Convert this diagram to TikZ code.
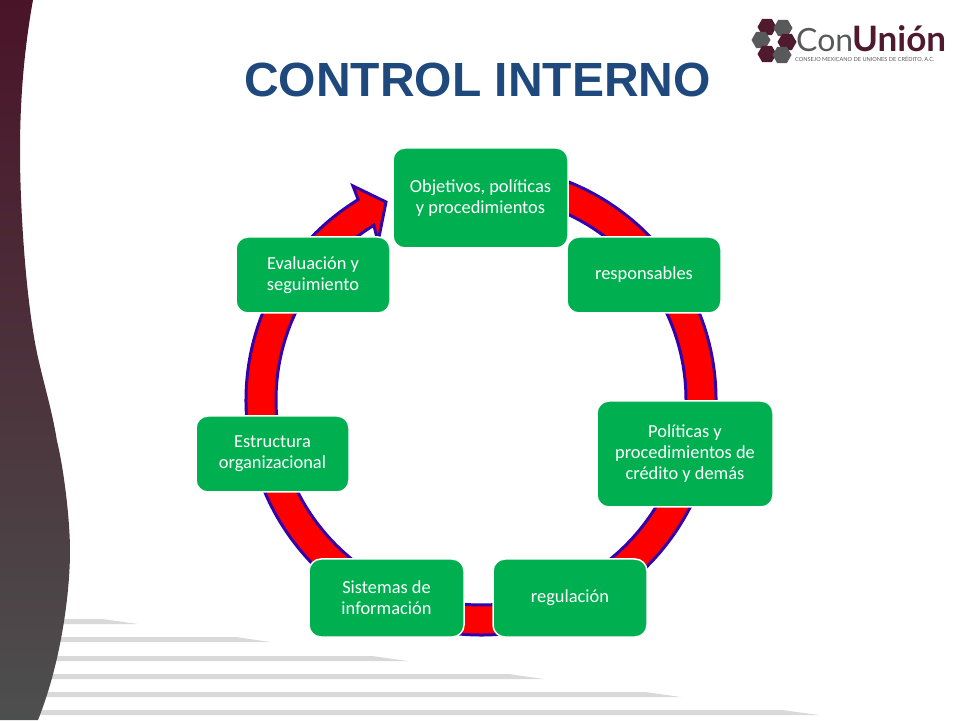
\documentclass[tikz,border=0pt]{standalone}
\usepackage{fontspec}
\setmainfont{Carlito}
\newfontfamily\titlefont{Liberation Sans}
\newfontfamily\logofont{Lato}
\usetikzlibrary{calc, shapes.geometric}
\definecolor{boxgreen}{HTML}{00B050}
\definecolor{ringred}{HTML}{FF0000}
\definecolor{ringblue}{HTML}{3300AA}
\definecolor{titleblue}{HTML}{1F497D}
\definecolor{logomaroon}{HTML}{4F1A2E}
\definecolor{logogray}{HTML}{58595B}
\definecolor{sidetop}{HTML}{4A1428}
\definecolor{sidebot}{HTML}{4D4F4E}
\definecolor{stripe}{HTML}{D9D9D9}
\tikzset{%
    blo/.style={rectangle, rounded corners=12pt, fill=boxgreen, draw=white, line width=1.5pt,
        text=white, align=center, font=\fontsize{18.4}{21}\selectfont, inner sep=2pt},
    rin/.style={fill=ringred, draw=ringblue, line width=3pt, line join=miter},
    hexa/.style={regular polygon, regular polygon sides=6, shape border rotate=0, minimum size=19pt, inner sep=0pt},
}
\begin{document}
\begin{tikzpicture}[x=1pt,y=1pt]
    \useasboundingbox (0,0) rectangle (960,720);
    % stripes at the bottom
    \foreach \ytop/\xs/\xe in {101/102/138, 83/236/270, 64/372/408, 46/509/544, 28/645/681, 10/782/819}
        \fill [stripe] (0,\ytop) -- (\xs,\ytop) -- (\xe,\ytop-5) -- (0,\ytop-5) -- cycle;
    % band on the left
    \shade [top color=sidetop, bottom color=sidebot]
        (0,720) -- (33,720) .. controls (24,670) and (20,620) .. (20,569)
        .. controls (20,510) and (26,420) .. (37,367)
        .. controls (44,335) and (52,310) .. (57,279)
        .. controls (64,250) and (70,200) .. (70,169)
        .. controls (70,130) and (62,60) .. (38,0) -- (0,0) -- cycle;
    % ring
    \coordinate (ctr) at (481,320);
    \coordinate (tip) at (386,518);
    \coordinate (barbo) at (353,534);
    \coordinate (barbi) at (378,478);
    \draw [rin] (tip) -- (barbo) -- ($(ctr)+(121.5:235)$) arc [start angle=121.5, end angle=450, radius=235]
        -- ($(ctr)+(90:205)$) arc [start angle=450, end angle=121.5, radius=205] -- (barbi) -- cycle;
    % boxes
    \node [blo, minimum width=175pt, minimum height=100pt] (obj) at (480.5,522) {Objetivos, políticas\\y procedimientos};
    \node [blo, minimum width=154pt, minimum height=76pt] (res) at (644,445) {responsables};
    \node [blo, minimum width=176pt, minimum height=106pt] (pol) at (685,266) {Políticas y\\procedimientos de\\crédito y demás};
    \node [blo, minimum width=154pt, minimum height=78pt] (reg) at (570,122) {regulación};
    \node [blo, minimum width=155pt, minimum height=78pt] (sis) at (386.5,122) {Sistemas de\\información};
    \node [blo, minimum width=153pt, minimum height=76pt] (est) at (272.5,266) {Estructura\\organizacional};
    \node [blo, minimum width=154pt, minimum height=76pt] (eva) at (313,445) {Evaluación y\\seguimiento};
    % title
    \node [font=\titlefont\bfseries\fontsize{48}{50}\selectfont, text=titleblue] (title) at (477.5,640) {CONTROL INTERNO};
    % logo
    \foreach \hx/\hy/\hc in {767/693/logomaroon, 783/692/logogray, 761/680/logogray, 787/678/logomaroon, 767/666/logomaroon, 782/665/logogray}
        \node [hexa, fill=\hc] (hex\hx) at (\hx,\hy) {};
    \node [anchor=base west, inner sep=0pt, text=logogray, font=\logofont\fontsize{32}{32}\selectfont] (con) at (796,668) {Con};
    \node [anchor=base west, inner sep=0pt, text=logomaroon, font=\logofont\bfseries\fontsize{35}{35}\selectfont] (uni) at (852,668) {Unión};
    \node [anchor=base west, inner sep=0pt, text=logogray, font=\logofont\fontsize{5.6}{6}\selectfont] (sub) at (795,658) {CONSEJO MEXICANO DE UNIONES DE CRÉDITO, A.C.};
\end{tikzpicture}
\end{document}
